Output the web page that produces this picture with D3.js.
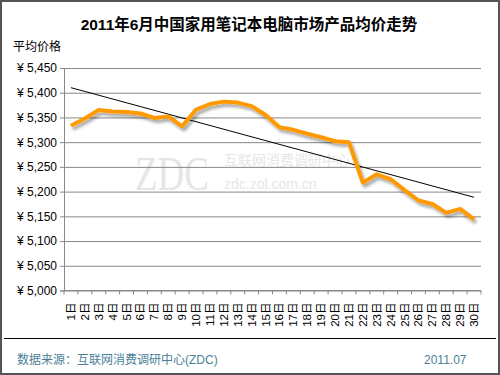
<!DOCTYPE html>
<html>
<head>
<meta charset="utf-8">
<script src="https://cdn.jsdelivr.net/npm/d3@7"></script>
<style>
    body { margin: 0; background: #fff; }
    text { font-family: Arial, "Liberation Sans", "Noto Sans CJK SC", sans-serif; }
</style>
</head>
<body>
<div id="canvas"></div>
<script>
"use strict";

/**** CONFIGURATION ****/
let svgWidth = 500;
let svgHeight = 375;

let plotLeft = 64;
let plotRight = 481;
let plotTop = 68;
let plotBottom = 290.5;

/**** DATA ****/
let days = ["1日", "2日", "3日", "4日", "5日", "6日", "7日", "8日", "9日", "10日",
    "11日", "12日", "13日", "14日", "15日", "16日", "17日", "18日", "19日", "20日",
    "21日", "22日", "23日", "24日", "25日", "26日", "27日", "28日", "29日", "30日"];

let prices = [5333, 5348, 5365, 5362, 5361, 5358, 5349, 5352, 5332, 5366,
    5377, 5382, 5380, 5373, 5355, 5330, 5325, 5317, 5310, 5302,
    5300, 5218, 5235, 5225, 5203, 5182, 5175, 5157, 5165, 5144];

let yTicks = [5000, 5050, 5100, 5150, 5200, 5250, 5300, 5350, 5400, 5450];

/**** LINEAR TREND (least squares on the prices) ****/
let n = prices.length;
let meanX = d3.mean(d3.range(n));
let meanY = d3.mean(prices);
let slope = d3.sum(d3.range(n), i => (i - meanX) * (prices[i] - meanY)) /
    d3.sum(d3.range(n), i => (i - meanX) * (i - meanX));
let intercept = meanY - slope * meanX;
let trend = [intercept, intercept + slope * (n - 1)];

/**** SVG ****/
let svg = d3.select("#canvas")
    .append("svg")
    .attr("width", svgWidth)
    .attr("height", svgHeight)
    .style("display", "block");

let defs = svg.append("defs");
let shadow = defs.append("filter")
    .attr("id", "shadow")
    .attr("x", "-10%").attr("y", "-20%")
    .attr("width", "130%").attr("height", "160%");
shadow.append("feDropShadow")
    .attr("dx", 2)
    .attr("dy", 3)
    .attr("stdDeviation", 1.5)
    .attr("flood-color", "#000")
    .attr("flood-opacity", 0.35);

/* outer frame */
svg.append("rect")
    .attr("x", 1)
    .attr("y", 1)
    .attr("width", svgWidth - 2)
    .attr("height", svgHeight - 2)
    .attr("fill", "#fff")
    .attr("stroke", "#555")
    .attr("stroke-width", 2);

/**** SCALES ****/
let xScale = d3.scaleBand()
    .domain(days)
    .range([plotLeft, plotRight]);

let yScale = d3.scaleLinear()
    .domain([5000, 5450])
    .range([plotBottom, plotTop]);

let xMid = d => xScale(d) + xScale.bandwidth() / 2;

/**** TITLE ****/
svg.append("text")
    .attr("x", 249)
    .attr("y", 30)
    .attr("text-anchor", "middle")
    .style("font-size", "15.5px")
    .style("font-weight", "bold")
    .text("2011年6月中国家用笔记本电脑市场产品均价走势");

svg.append("text")
    .attr("x", 13)
    .attr("y", 51)
    .style("font-size", "12px")
    .text("平均价格");

/**** WATERMARK ****/
svg.append("text")
    .attr("transform", "translate(135,190) scale(1,1.3)")
    .style("font-family", "'Liberation Serif', serif")
    .style("font-size", "37px")
    .attr("fill", "#e6e6e6")
    .text("ZDC");

svg.append("text")
    .attr("x", 224)
    .attr("y", 165)
    .style("font-size", "14px")
    .attr("fill", "#e6e6e6")
    .text("互联网消费调研中心");

svg.append("text")
    .attr("x", 224)
    .attr("y", 189)
    .style("font-size", "14px")
    .attr("fill", "#e6e6e6")
    .text("zdc.zol.com.cn");

/**** GRID + Y AXIS ****/
svg.append("g")
    .attr("transform", `translate(${plotLeft},0)`)
    .call(d3.axisLeft(yScale)
        .tickValues(yTicks)
        .tickSize(-(plotRight - plotLeft))
        .tickPadding(7)
        .tickFormat(d => "¥ " + d3.format(",")(d)))
    .call(g => g.select(".domain").remove())
    .call(g => g.selectAll("line").attr("stroke", "#888"))
    .call(g => g.selectAll("text")
        .attr("fill", "#000")
        .style("font-size", "12px"));

/* small outside ticks on the y axis */
svg.append("g")
    .attr("transform", `translate(${plotLeft},0)`)
    .call(d3.axisLeft(yScale).tickValues(yTicks).tickSize(4).tickFormat(""))
    .call(g => g.selectAll("line, path").attr("stroke", "#888"));

/**** X AXIS ****/
let xAxis = svg.append("g")
    .attr("transform", `translate(0,${plotBottom})`);

xAxis.append("line")
    .attr("x1", plotLeft)
    .attr("x2", plotRight)
    .attr("stroke", "#888");

xAxis.selectAll("line.tick")
    .data(days.concat(["end"]))
    .join("line")
    .attr("class", "tick")
    .attr("x1", (d, i) => i < days.length ? xScale(d) : plotRight)
    .attr("x2", (d, i) => i < days.length ? xScale(d) : plotRight)
    .attr("y2", 4)
    .attr("stroke", "#888");

xAxis.selectAll("text")
    .data(days)
    .join("text")
    .attr("transform", d => `translate(${xMid(d)},12) rotate(-90)`)
    .attr("text-anchor", "end")
    .attr("dominant-baseline", "central")
    .style("font-size", "11.5px")
    .text(d => d);

/**** TREND LINE ****/
svg.append("line")
    .attr("x1", xMid(days[0]))
    .attr("y1", yScale(trend[0]))
    .attr("x2", xMid(days[n - 1]))
    .attr("y2", yScale(trend[1]))
    .attr("stroke", "#000")
    .attr("stroke-width", 1);

/**** PRICE LINE ****/
let line = d3.line()
    .x((d, i) => xMid(days[i]))
    .y(d => yScale(d));

svg.append("path")
    .datum(prices)
    .attr("d", line)
    .attr("fill", "none")
    .attr("stroke", "#ff9900")
    .attr("stroke-width", 4)
    .attr("stroke-linejoin", "round")
    .attr("filter", "url(#shadow)");

/**** FOOTER ****/
svg.append("line")
    .attr("x1", 4)
    .attr("x2", 496)
    .attr("y1", 338.5)
    .attr("y2", 338.5)
    .attr("stroke", "#000");

svg.append("text")
    .attr("x", 17)
    .attr("y", 364)
    .attr("fill", "#4a7f99")
    .style("font-size", "12px")
    .text("数据来源：互联网消费调研中心(ZDC)");

svg.append("text")
    .attr("x", 424)
    .attr("y", 364)
    .attr("fill", "#4a7f99")
    .style("font-size", "12px")
    .text("2011.07");
</script>
</body>
</html>
